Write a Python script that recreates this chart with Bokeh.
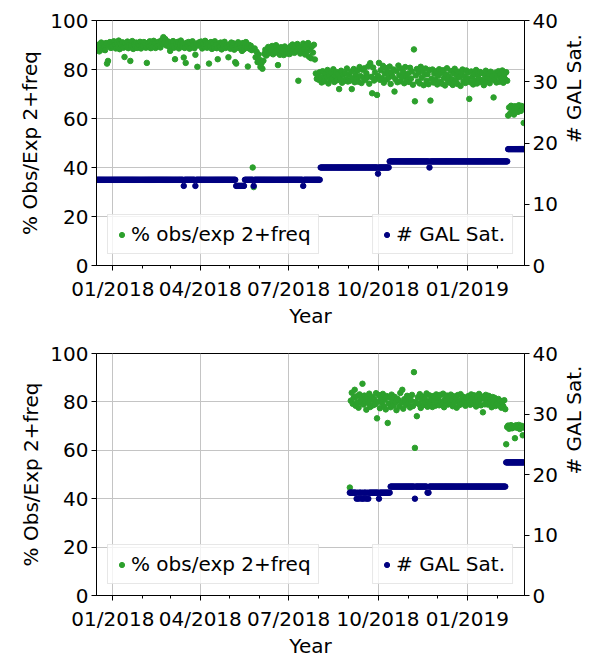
import pandas as pd
from math import pi
from bokeh.plotting import figure
from bokeh.models import (Range1d, LinearAxis, FixedTicker, DatetimeTickFormatter,
                          Legend, LegendItem)
from bokeh.layouts import column
from bokeh.embed import file_html
from bokeh.resources import INLINE

# ---------------- data ----------------
top_start = "2017-12-16"   # daily values
top_pct = [
    # Dec 2017 (16-31)
    88.5, 90.1, 87.4, 89.8, 91.0, 88.2, 90.5, 89.3, 87.9, 90.8, 82.4, 83.5, 89.6, 91.2, 88.8, 90.0,
    # Jan 2018
    89.4, 91.5, 90.2, 88.6, 90.9, 89.1, 91.8, 88.3, 90.4, 89.7, 91.1, 88.9, 85.1, 90.6, 89.2, 91.4,
    88.7, 90.1, 83.5, 89.8, 91.6, 88.4, 90.3, 89.5, 91.0, 88.8, 90.7, 89.9, 91.3, 88.6, 90.2,
    # Feb 2018
    89.7, 91.2, 90.0, 88.9, 82.7, 90.8, 89.4, 91.5, 88.7, 90.3, 89.1, 91.7, 90.5, 88.8, 90.9, 89.6,
    91.3, 90.1, 89.0, 91.9, 90.4, 93.2, 91.1, 92.4, 89.8, 90.7, 91.4, 89.3,
    # Mar 2018
    87.6, 90.8, 89.5, 91.6, 88.9, 84.2, 90.4, 89.2, 91.3, 88.6, 90.1, 91.8, 89.4, 90.7, 84.9, 88.8,
    82.7, 90.9, 89.7, 91.2, 88.5, 90.3, 89.1, 91.5, 90.0, 88.7, 86.0, 90.6, 81.1, 89.8, 91.1,
    # Apr 2018
    89.9, 91.4, 88.6, 90.5, 89.3, 91.7, 90.2, 88.9, 90.8, 82.4, 89.6, 91.2, 88.4, 90.3, 89.0, 91.5,
    90.1, 88.7, 84.2, 90.6, 89.4, 91.0, 88.2, 90.4, 89.7, 91.3, 88.8, 90.0, 89.2, 85.0,
    # May 2018
    90.2, 88.5, 91.0, 89.3, 90.7, 88.1, 83.0, 82.4, 89.9, 91.1, 88.7, 90.4, 89.0, 87.6, 90.8, 88.3,
    89.6, 91.2, 88.9, 81.2, 90.1, 88.4, 89.7, 87.9, 40.0, 32.0, 88.6, 85.0, 87.2, 83.0, 86.1,
    # Jun 2018
    84.0, 81.0, 82.5, 80.3, 83.6, 86.4, 88.1, 85.7, 87.9, 89.2, 86.6, 88.5, 87.3, 89.6, 86.2, 88.8,
    87.5, 89.9, 86.9, 81.8, 88.2, 86.0, 89.1, 87.4, 88.6, 85.9, 89.4, 87.1, 88.0, 86.5,
    # Jul 2018
    88.7, 86.3, 89.5, 87.0, 90.2, 88.1, 86.8, 89.7, 87.6, 90.4, 75.4, 88.9, 86.5, 89.2, 87.8, 90.6,
    88.3, 86.1, 89.9, 87.4, 90.8, 85.2, 88.6, 84.6, 89.4, 86.9, 90.1, 84.1, 78.4, 76.2, 77.5,
    # Aug 2018
    75.8, 78.9, 76.4, 74.7, 79.3, 77.1, 75.2, 78.4, 76.8, 79.8, 74.3, 77.6, 75.9, 78.7, 76.2, 80.1,
    74.9, 77.4, 79.0, 75.6, 78.2, 72.0, 76.7, 79.5, 74.6, 77.9, 75.3, 78.6, 76.0, 80.4, 75.1,
    # Sep 2018
    77.8, 75.4, 79.1, 72.0, 76.5, 80.2, 74.8, 78.0, 76.1, 79.6, 75.0, 81.0, 77.3, 74.5, 79.9, 76.6,
    80.5, 75.7, 78.5, 76.9, 81.3, 74.2, 82.6, 77.0, 70.3, 80.8, 75.5, 78.8, 76.3, 69.6,
    # Oct 2018
    77.4, 82.7, 75.8, 79.7, 76.4, 81.5, 74.6, 78.3, 80.6, 75.9, 79.0, 76.7, 81.2, 74.1, 78.6, 77.2,
    80.0, 71.0, 76.0, 79.4, 74.8, 81.6, 77.7, 75.2, 80.3, 76.8, 78.9, 74.4, 81.0, 77.0, 75.6,
    # Nov 2018
    78.4, 74.9, 80.7, 76.3, 79.2, 73.8, 88.2, 67.0, 77.6, 80.2, 75.1, 78.7, 74.3, 81.1, 76.6, 79.5,
    73.6, 77.9, 80.4, 75.4, 78.1, 74.0, 79.8, 67.3, 76.2, 80.0, 74.7, 78.3, 75.8, 79.3,
    # Dec 2018
    73.9, 77.4, 80.1, 75.0, 78.6, 74.2, 79.7, 76.5, 73.5, 78.0, 80.5, 75.3, 77.1, 74.6, 79.4, 76.0,
    73.7, 78.4, 80.3, 75.7, 77.8, 74.1, 79.1, 76.8, 73.3, 78.9, 80.0, 75.2, 77.3, 74.5, 79.6,
    # Jan 2019
    76.4, 78.8, 68.0, 74.8, 79.2, 76.9, 73.9, 78.1, 75.5, 79.8, 74.3, 77.6, 76.1, 79.0, 74.9, 78.5,
    75.8, 73.6, 77.9, 79.5, 75.1, 76.7, 78.3, 74.4, 79.1, 76.2, 77.4, 68.6, 75.6, 78.7, 74.7,
    # Feb 2019
    77.2, 79.3, 75.0, 78.0, 76.5, 79.6, 74.6, 77.8, 76.0, 78.9, 75.4, 61.2, 64.5, 62.0, 65.2, 63.4,
    64.8, 61.6, 65.0, 63.9, 64.2, 62.7, 65.4, 64.0, 63.1, 65.1, 64.6, 58.2,
]
top_sat = ([14] * 89 + [13] + [14] * 11 + [13] + [14] * 41 + [13] * 9 + [14] * 9 + [13]
           + [14] * 50 + [13] + [14] * 17 + [16] * 59 + [15] + [16] * 11
           + [17] * 41 + [16] + [17] * 80 + [19] * 17)

bot_start = "2018-09-02"   # daily values
bot_pct = [
    # Sep 2018
    44.6, 80.5, 83.8, 79.2, 81.7, 85.0, 78.4, 82.3, 80.0, 77.6, 83.1, 79.8, 81.4, 87.5, 78.9, 82.6,
    80.3, 76.8, 81.9, 79.5, 83.4, 77.9, 80.8, 82.0, 78.6, 81.2, 79.0, 83.6, 73.2, 80.1,
    # Oct 2018
    82.8, 77.4, 81.6, 79.7, 83.3, 78.2, 80.9, 76.9, 82.4, 71.3, 79.3, 81.8, 77.8, 83.0, 80.4, 78.5,
    82.1, 79.9, 76.6, 81.3, 80.7, 78.1, 83.7, 79.6, 85.0, 77.2, 81.1, 80.2, 78.8, 82.5, 79.4,
    # Nov 2018
    81.5, 77.7, 80.6, 82.9, 78.3, 92.3, 61.0, 80.0, 74.1, 81.9, 79.1, 83.2, 77.5, 80.8, 82.2, 78.7,
    81.4, 79.8, 83.5, 78.0, 80.3, 82.7, 79.2, 81.0, 77.9, 82.4, 80.5, 78.4, 83.1, 79.6,
    # Dec 2018
    81.7, 78.6, 82.9, 80.1, 79.0, 83.4, 77.8, 81.2, 80.4, 82.6, 78.9, 81.8, 79.4, 83.0, 80.7, 78.2,
    82.3, 79.9, 81.5, 77.6, 82.8, 80.2, 78.7, 83.2, 81.0, 79.3, 82.1, 80.6, 78.4, 81.6, 79.7,
    # Jan 2019
    82.4, 80.0, 78.8, 83.1, 81.3, 79.2, 82.7, 80.5, 78.1, 81.9, 79.6, 83.3, 80.9, 78.6, 82.2, 75.7,
    81.4, 79.0, 82.9, 80.3, 78.9, 82.5, 79.8, 81.1, 77.8, 82.0, 79.4, 81.7, 78.3, 80.8, 79.1,
    # Feb 2019
    81.2, 78.5, 80.4, 77.6, 79.9, 78.2, 80.7, 77.0, 62.5, 69.6, 70.2, 68.9, 69.8, 70.4, 69.1, 70.0,
    69.5, 65.0, 70.3, 69.3, 69.9, 70.5, 68.8, 69.7, 70.1, 66.2, 69.4,
]
bot_sat = ([17] * 7 + [16, 17, 16, 17, 17, 16, 17, 16, 17, 17, 16, 17, 16] + [17] * 10 + [16]
           + [17] * 11 + [18] * 25 + [16] + [18] * 12 + [17, 17] + [18] * 79 + [22] * 19)

x_start, x_end = "2017-12-15 04:00", "2019-02-28 20:00"
x_tick_dates = ["2018-01-01", "2018-04-01", "2018-07-01", "2018-10-01", "2019-01-01"]
x_tick_labels = ["01/2018", "04/2018", "07/2018", "10/2018", "01/2019"]
x_minor_dates = ["2018-01-01", "2018-02-01", "2018-03-01", "2018-04-01", "2018-05-01",
                 "2018-06-01", "2018-07-01", "2018-08-01", "2018-09-01", "2018-10-01",
                 "2018-11-01", "2018-12-01", "2019-01-01", "2019-02-01"]
pct_ticks = [0, 20, 40, 60, 80, 100]
sat_ticks = [0, 10, 20, 30, 40]
sat_title = "# GAL Sat."

GREEN = "#2ca02c"
NAVY = "#000080"
FONT = "DejaVu Sans"
FS = "20px"
W = 600


def ms(s):
    return pd.Timestamp(s).timestamp() * 1000.0


def make_fig(height, bl, br, bt, bb, start_pct, pct, sat, ylab_standoff):
    p = figure(width=W, height=height, x_axis_type="datetime",
               x_range=Range1d(pd.Timestamp(x_start), pd.Timestamp(x_end)),
               y_range=Range1d(0, 100), output_backend="svg", toolbar_location=None,
               min_border_left=bl, min_border_right=br, min_border_top=bt, min_border_bottom=bb)
    p.extra_y_ranges = {"sat": Range1d(0, 40)}
    p.background_fill_color = "white"
    p.border_fill_color = "white"
    p.outline_line_color = "black"
    p.outline_line_width = 1

    dates_pct = pd.date_range(start_pct, periods=len(pct), freq="D")
    dates_sat = pd.date_range(start_pct, periods=len(sat), freq="D")
    r1 = p.scatter(x=dates_pct, y=pct, size=5.5, fill_color=GREEN, line_color=GREEN)
    r2 = p.scatter(x=dates_sat, y=sat, size=5.5, fill_color=NAVY, line_color=NAVY,
                   y_range_name="sat")

    # x axis
    xt = FixedTicker(ticks=[ms(d) for d in x_tick_dates], minor_ticks=[ms(d) for d in x_minor_dates])
    xa = p.xaxis[0]
    xa.ticker = xt
    fmt = "%m/%Y"
    xa.formatter = DatetimeTickFormatter(milliseconds=fmt, seconds=fmt, minsec=fmt, minutes=fmt,
                                         hourmin=fmt, hours=fmt, days=fmt, months=fmt, years=fmt)
    xa.major_label_overrides = {ms(d): lab for d, lab in zip(x_tick_dates, x_tick_labels)}
    xa.axis_label = "Year"
    p.xgrid.ticker = xt

    # left y axis
    yt = FixedTicker(ticks=pct_ticks)
    ya = p.yaxis[0]
    ya.ticker = yt
    ya.axis_label = "% Obs/Exp 2+freq"
    p.ygrid.ticker = yt

    # right y axis (ticks and numbers)
    ra = LinearAxis(y_range_name="sat", ticker=FixedTicker(ticks=sat_ticks))
    p.add_layout(ra, "right")

    for ax in (xa, ya, ra):
        ax.axis_line_color = "black"
        ax.major_tick_line_color = "black"
        ax.minor_tick_line_color = "black"
        ax.major_tick_in = 0
        ax.major_tick_out = 5
        ax.minor_tick_in = 0
        ax.minor_tick_out = 3
        ax.major_label_text_font = FONT
        ax.major_label_text_font_size = FS
        ax.major_label_text_color = "black"
        ax.axis_label_text_font = FONT
        ax.axis_label_text_font_size = FS
        ax.axis_label_text_font_style = "normal"
        ax.axis_label_text_color = "black"
        ax.major_label_standoff = 3
    ya.axis_label_standoff = ylab_standoff
    xa.major_label_standoff = 6
    xa.axis_label_standoff = 0
    ya.minor_tick_line_color = None
    ra.minor_tick_line_color = None

    # right axis title, reading bottom-to-top, as a single rotated label
    # at the middle of the satellite range (outer right panel)
    sat_mid = (sat_ticks[0] + sat_ticks[-1]) / 2
    rb = LinearAxis(y_range_name="sat", ticker=FixedTicker(ticks=[sat_mid]),
                    major_label_overrides={sat_mid: sat_title},
                    major_label_orientation=pi / 2,
                    major_tick_out=0, major_tick_in=0, major_tick_line_color=None,
                    minor_tick_out=0, minor_tick_in=0, minor_tick_line_color=None,
                    axis_line_color=None, major_label_standoff=13,
                    major_label_text_font=FONT, major_label_text_font_size=FS,
                    major_label_text_color="black")
    p.add_layout(rb, "right")

    for g in (p.xgrid[0], p.ygrid[0]):
        g.grid_line_color = "#c4c4c4"
        g.grid_line_width = 1

    def leg(label, r, loc):
        L = Legend(items=[LegendItem(label=label, renderers=[r])], location=loc,
                   margin=11, padding=7, glyph_width=13, glyph_height=13, label_standoff=3,
                   label_text_font=FONT, label_text_font_size=FS, label_text_color="black",
                   border_line_color="#d0d0d0", border_line_width=1,
                   background_fill_color="white", background_fill_alpha=0.8, spacing=0)
        p.add_layout(L)

    leg("% obs/exp 2+freq", r1, "bottom_left")
    leg("# GAL Sat.", r2, "bottom_right")
    return p


p1 = make_fig(330, 96, 59, 20, 64, top_start, top_pct, top_sat, 5)
p2 = make_fig(330, 86, 61, 23, 58, bot_start, bot_pct, bot_sat, 4)

layout = column(p1, p2, spacing=0)
open("out.html", "w").write(file_html(layout, INLINE))
